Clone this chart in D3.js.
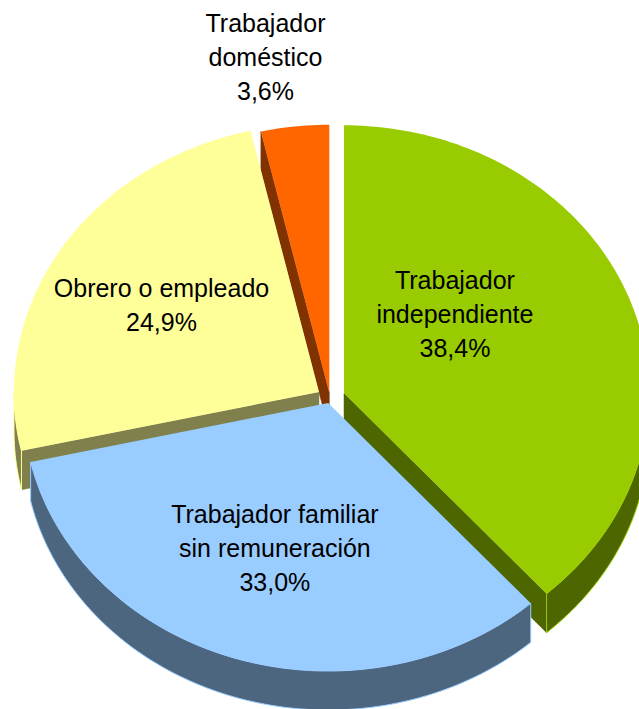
<!DOCTYPE html>
<html>
<head>
  <meta charset="utf-8">
  <style>
    body { margin: 0; background: #fff; }
    svg { display: block; }
    .label {
      font-family: "Liberation Sans", Arial, sans-serif;
      font-size: 25px;
      fill: #000;
    }
  </style>
</head>
<body>
  <svg width="639" height="709"></svg>
  <script src="https://d3js.org/d3.v7.min.js"></script>
  <script>
    var categories = ["Trabajador independiente", "Trabajador familiar sin remuneración", "Obrero o empleado", "Trabajador doméstico"];
    var values = [38.4, 33.0, 24.9, 3.6];
    var labelLines = [["Trabajador", "independiente"], ["Trabajador familiar", "sin remuneración"], ["Obrero o empleado"], ["Trabajador", "doméstico"]];
    var topColors = ["#99cc00", "#99ccff", "#ffff99", "#ff6600"];
    var sideColors = ["#4d6600", "#4d6680", "#80804d", "#803300"];

    var svg = d3.select("svg"),
        cx = 330, cy = 398,      // centre of the unexploded pie top
        rx = 305, ry = 268,      // ellipse radii of the tilted top
        depth = 39;              // thickness of the pie

    var explode = [15, 6, 13, 6];
    /* label placement: radius factor and turn (deg) from the slice middle */
    var labelR = [0.47, 0.57, 0.61, 1.27],
        labelTurn = [-18.5, 0, 0, -3];

    var fmt = function(v) { return d3.format(".1f")(v).replace(".", ",") + "%"; };

    var pie = d3.pie().sort(null).value(function(d) { return d; });
    var arcs = pie(values);
    var line = d3.line();

    // point on the top ellipse, angle clockwise from 12 o'clock
    function pt(o, a, r) { return [o[0] + r * rx * Math.sin(a), o[1] - r * ry * Math.cos(a)]; }
    function arcPts(o, a0, a1) {
      var n = Math.max(2, Math.ceil((a1 - a0) / 0.02));
      return d3.range(n + 1).map(function(i) { return pt(o, a0 + (a1 - a0) * i / n, 1); });
    }
    function down(p) { return [p[0], p[1] + depth]; }

    arcs.forEach(function(d, i) {
      d.index = i;
      d.mid = (d.startAngle + d.endAngle) / 2;
      d.o = [cx + explode[i] * Math.sin(d.mid), cy - explode[i] * (ry / rx) * Math.cos(d.mid)];
    });

    /* draw back slices first */
    var order = arcs.slice().sort(function(a, b) { return Math.cos(b.mid) - Math.cos(a.mid); });

    order.forEach(function(d) {
      var g = svg.append("g"), i = d.index, o = d.o;

      // cut faces, only the ones turned to the viewer
      [[d.startAngle, -1], [d.endAngle, 1]].forEach(function(f) {
        var na = f[0] + f[1] * Math.PI / 2;
        if (-Math.cos(na) > 0.01) {
          var p = pt(o, f[0], 1);
          g.append("path")
            .attr("d", line([o, p, down(p), down(o)]) + "Z")
            .attr("fill", sideColors[i])
            .attr("stroke", sideColors[i])
            .attr("stroke-width", 0.5);
        }
      });

      // outer wall, front half only
      var a0 = Math.max(d.startAngle, Math.PI / 2),
          a1 = Math.min(d.endAngle, 3 * Math.PI / 2);
      if (a1 > a0) {
        var pts = arcPts(o, a0, a1);
        g.append("path")
          .attr("d", line(pts.concat(pts.slice().reverse().map(down))) + "Z")
          .attr("fill", sideColors[i])
          .attr("stroke", topColors[i])
          .attr("stroke-width", 1);
      }

      // top face
      g.append("path")
        .attr("d", line([o].concat(arcPts(o, d.startAngle, d.endAngle))) + "Z")
        .attr("fill", topColors[i]);
    });

    /* data labels */
    arcs.forEach(function(d, i) {
      var p = pt(d.o, d.mid + labelTurn[i] * Math.PI / 180, labelR[i]);
      var lines = labelLines[i].concat([fmt(values[i])]);
      var t = svg.append("text").attr("class", "label").attr("text-anchor", "middle");
      lines.forEach(function(s, k) {
        t.append("tspan")
          .attr("x", p[0])
          .attr("y", p[1] + (k - (lines.length - 1) / 2) * 34 + 9)
          .text(s);
      });
    });
  </script>
</body>
</html>
